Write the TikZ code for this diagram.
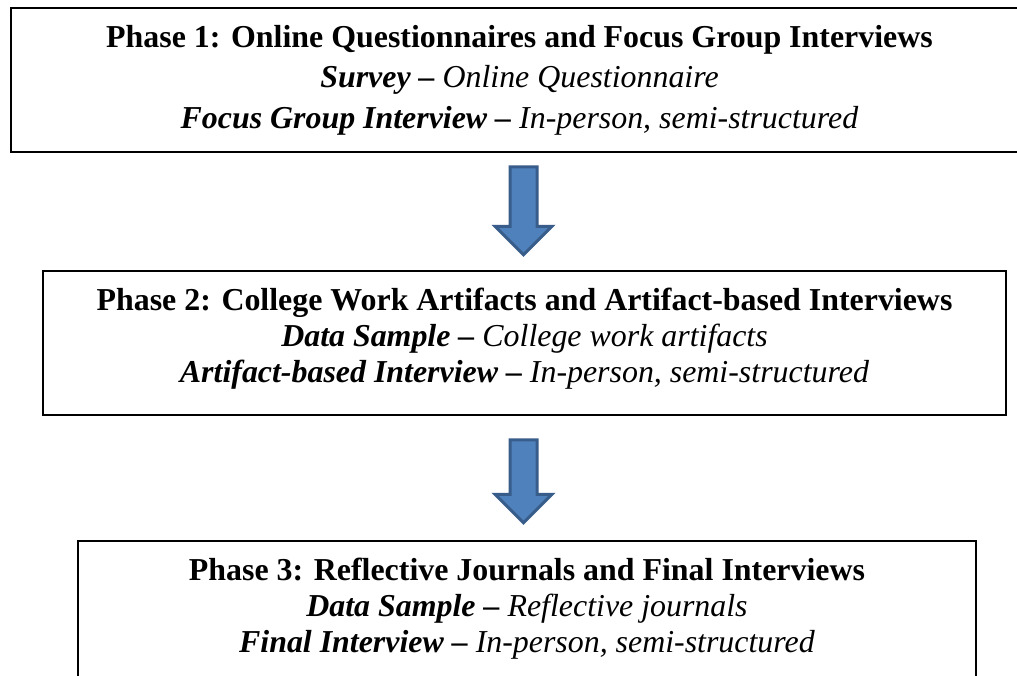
\documentclass[tikz,border=0pt]{standalone}
\usepackage{fontspec}
\setmainfont{Liberation Serif}
\usetikzlibrary{shapes.arrows,positioning}
\definecolor{arrowfill}{HTML}{4F81BD}
\definecolor{arrowline}{HTML}{385D8A}

\begin{document}
\begin{tikzpicture}[x=1pt,y=-1pt,
	phasebox/.style={rectangle,draw,line width=2pt,inner sep=0,outer sep=0},
	phasetext/.style={anchor=base,align=center,inner sep=0,font=\fontsize{31.9}{36}\selectfont},
	downarrow/.style={single arrow,draw=arrowline,fill=arrowfill,line width=3pt,shape border rotate=270,
		inner sep=12pt,single arrow head extend=15pt,single arrow head indent=0pt,outer sep=0}]
		\clip (0,0) rectangle (1017,675);
		\fill[white] (0,0) rectangle (1017,675);

		\node[phasebox, minimum width=1017, minimum height=144] (P1) at (519.5, 80) {};
		\node[phasebox, minimum width=963, minimum height=144] (P2) at (524.5, 343) {};
		\node[phasebox, minimum width=898, minimum height=200] (P3) at (527, 641) {};

		% base anchor sits on the last line
		\node[phasetext, font=\fontsize{31.9}{40.5}\selectfont] (T1) at (519.5, 128) {\textbf{Phase 1: Online Questionnaires and Focus Group Interviews}\\
			\textbf{\textit{Survey –}} \textit{Online Questionnaire}\\
			\textbf{\textit{Focus Group Interview –}} \textit{In-person, semi-structured}};
		\node[phasetext] (T2) at (524.5, 382) {\textbf{Phase 2: College Work Artifacts and Artifact-based Interviews}\\
			\textbf{\textit{Data Sample –}} \textit{College work artifacts}\\
			\textbf{\textit{Artifact-based Interview –}} \textit{In-person, semi-structured}};
		\node[phasetext] (T3) at (527, 652) {\textbf{Phase 3: Reflective Journals and Final Interviews}\\
			\textbf{\textit{Data Sample –}} \textit{Reflective journals}\\
			\textbf{\textit{Final Interview –}} \textit{In-person, semi-structured}};

		\node[downarrow, minimum height=88] (A1) at (523.5, 204) {};
		\node[downarrow, minimum height=83] (A2) at (523.5, 474.5) {};
	\end{tikzpicture}
\end{document}
